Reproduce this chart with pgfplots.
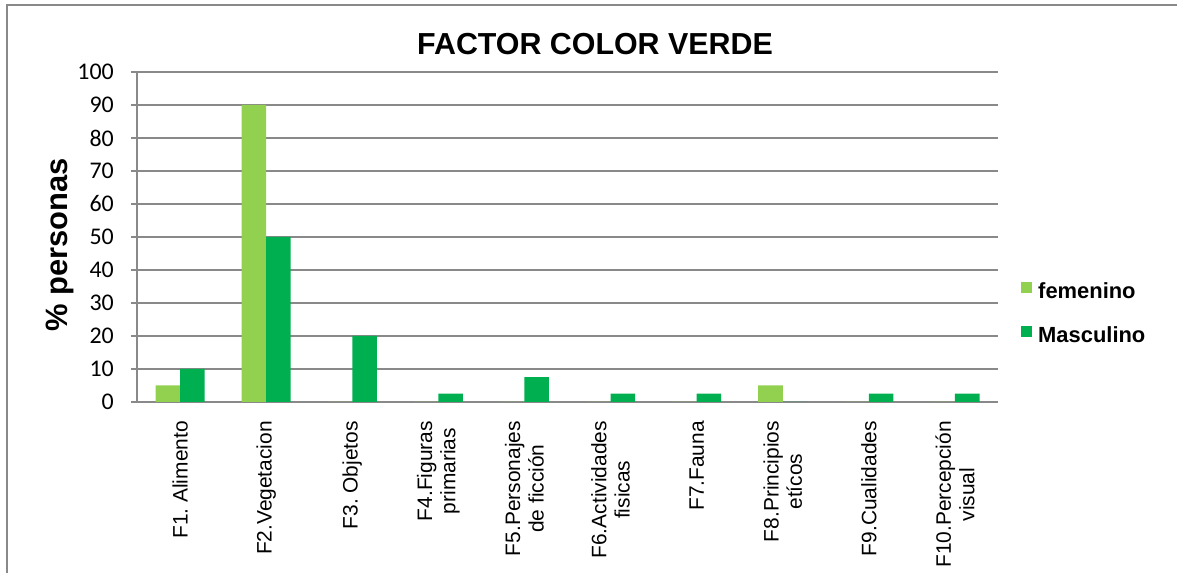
\documentclass[border=0pt]{standalone}
\usepackage{pgfplots}
\pgfplotsset{compat=1.18}
\usepackage{fontspec}
\setmainfont{Liberation Sans}
\newfontfamily\calibri{Carlito}
\definecolor{fem}{HTML}{92D050}
\definecolor{mas}{HTML}{00B050}
\definecolor{gridgray}{HTML}{898989}
\begin{document}
\begin{tikzpicture}[x=1bp,y=1bp]
\useasboundingbox (-137,-171) rectangle (1040,402);
\draw[gridgray, line width=2bp] (-130,-185) -- (-130,397) -- (1050,397);
\begin{axis}[
  at={(0,0)}, anchor=south west,
  scale only axis, width=861bp, height=330bp,
  ybar=0pt, bar width=0.285,
  xmin=-0.5, xmax=9.5, ymin=0, ymax=100,
  ytick={0,10,...,100},
  xtick={0,...,9},
  xticklabels={F1.~Alimento, F2.Vegetacion, F3.~Objetos, F4.Figuras\\primarias, F5.Personajes\\de ficción, F6.Actividades\\fisicas, F7.Fauna, F8.Principios\\etícos, F9.Cualidades, F10.Percepción\\visual},
  axis lines*=left,
  axis line style={gridgray, line width=1.5bp},
  ymajorgrids, grid style={gridgray, line width=1.5bp},
  tick align=outside, major tick length=6bp,
  ytick style={gridgray, line width=1.5bp},
  xtick style={draw=none},
  /pgf/number format/assume math mode=true,
  yticklabel style={font=\calibri\fontsize{24}{28}\selectfont, inner sep=0pt, anchor=east, xshift=-17bp},
  xticklabel style={yshift=-13bp, rotate=90, anchor=east, inner sep=0pt, align=center, font=\fontsize{21}{23.5}\selectfont},
  legend style={at={(1.0267,0.3645)}, anchor=north west, draw=none, fill=none, inner sep=0pt,
    font=\bfseries\fontsize{22}{26}\selectfont, row sep=23bp, column sep=6bp,
    nodes={inner sep=0pt, text height=16bp, text depth=5bp}},
  legend cell align=left,
  legend image code/.code={\fill[#1] (0bp,0bp) rectangle (11bp,11bp);},
]
\addplot[fill=fem, draw=none] coordinates {(0,5) (1,90) (2,0) (3,0) (4,0) (5,0) (6,0) (7,5) (8,0) (9,0)};
\addplot[fill=mas, draw=none] coordinates {(0,10) (1,50) (2,20) (3,2.5) (4,7.5) (5,2.5) (6,2.5) (7,0) (8,2.5) (9,2.5)};
\legend{femenino, Masculino}
\end{axis}
\node[font=\bfseries\fontsize{30.5}{36}\selectfont, anchor=base] at (458,347) {FACTOR COLOR VERDE};
\node[font=\bfseries\fontsize{31}{36}\selectfont, rotate=90] at (-77,157) {\% personas};
\end{tikzpicture}
\end{document}
